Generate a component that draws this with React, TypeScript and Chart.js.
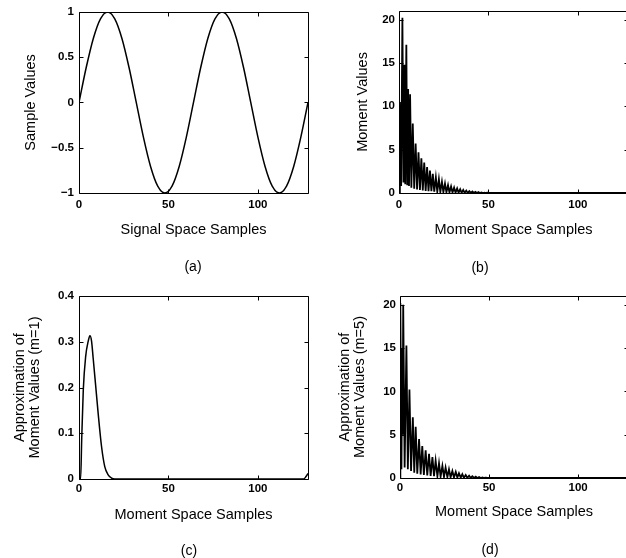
import React, { useEffect, useRef } from 'react';
import { Chart, registerables } from 'chart.js';

Chart.register(...registerables);

const FONT = "'Liberation Sans', Arial, Helvetica, sans-serif";

// ---------- data ----------
const xTicks = [0, 50, 100];

// (a) signal space samples
const aX = [0, 4, 8, 12, 16, 20, 24, 28, 32, 36, 40, 44, 48, 52, 56, 60, 64, 68, 72, 76, 80, 84, 88, 92, 96, 100, 104, 108, 112, 116, 120, 124, 128];
const aY = [0, 0.383, 0.707, 0.924, 1, 0.924, 0.707, 0.383, 0, -0.383, -0.707, -0.924, -1, -0.924, -0.707, -0.383, 0, 0.383, 0.707, 0.924, 1, 0.924, 0.707, 0.383, 0, -0.383, -0.707, -0.924, -1, -0.924, -0.707, -0.383, 0];
const aYTicks = [-1, -0.5, 0, 0.5, 1];

// (b) moment values
const bX = [0, 0.5, 1.2, 1.9, 2.5, 3.0, 3.5, 4.1, 4.6, 5.1, 5.6, 6.2, 6.9, 7.7, 8.5, 9.3, 10.1, 10.9, 11.7, 12.5, 13.3, 14.1, 14.9, 15.7, 16.5, 17.3, 18.1, 18.9, 19.7, 20.6, 21.4, 22.3, 23.1, 24.0, 24.8, 25.7, 26.5, 27.4, 28.2, 29.1, 29.9, 30.8, 31.6, 32.5, 33.3, 34.2, 35.0, 35.9, 36.7, 37.6, 38.4, 39.3, 40.1, 41.0, 41.8, 42.7, 43.5, 44.4, 45.2, 46.1, 46.9, 47.8, 48.6, 49.5, 50.3, 128];
const bY = [0, 10.5, 0.8, 20.2, 1.2, 14.8, 1.0, 17.1, 0.9, 12.0, 0.8, 11.4, 0.6, 8.0, 0.5, 5.7, 0.4, 4.7, 0.35, 4.0, 0.3, 3.5, 0.25, 3.0, 0.2, 2.6, 0.2, 2.2, 0.15, 1.8, 0.15, 1.6, 0.1, 1.3, 0.1, 1.1, 0.08, 0.9, 0.06, 0.75, 0.05, 0.62, 0.04, 0.52, 0.03, 0.43, 0.02, 0.35, 0.02, 0.28, 0.01, 0.22, 0.01, 0.17, 0, 0.13, 0, 0.1, 0, 0.07, 0, 0.05, 0, 0.03, 0, 0];
const bdYTicks = [0, 5, 10, 15, 20];

// (c) approximation m=1
const cX = [0, 0.9, 1.5, 2.4, 3.7, 5.2, 6.1, 7.0, 7.9, 9.2, 10.7, 12.6, 14.4, 16.3, 18.2, 20, 125.5, 127, 128];
const cY = [0, 0, 0.085, 0.195, 0.267, 0.302, 0.313, 0.302, 0.265, 0.209, 0.144, 0.071, 0.027, 0.009, 0.002, 0, 0, 0.006, 0.012];
const cYTicks = [0, 0.1, 0.2, 0.3, 0.4];

// (d) approximation m=5
const dX = [0, 0.2, 0.8, 1.3, 1.5, 1.8, 2.6, 3.6, 4.4, 5.3, 6.2, 7.2, 8.0, 8.8, 9.7, 10.7, 11.6, 12.5, 13.4, 14.4, 15.3, 16.3, 17.2, 18.2, 19.1, 20.0, 21.0, 21.9, 22.8, 23.8, 24.7, 25.6, 26.6, 27.5, 28.4, 29.4, 30.3, 31.3, 32.2, 33.1, 34.1, 35.0, 35.9, 36.9, 37.8, 38.8, 39.7, 40.6, 41.6, 42.5, 43.4, 44.4, 45.3, 46.3, 47.2, 48.1, 49.0, 128];
const dY = [0, 20.2, 1.0, 15.0, 5.0, 20.0, 1.2, 15.3, 1.0, 10.2, 0.8, 7.0, 0.6, 5.9, 0.5, 4.5, 0.4, 3.7, 0.35, 3.2, 0.3, 2.8, 0.25, 2.4, 0.2, 2.0, 0.2, 1.7, 0.15, 1.4, 0.12, 1.2, 0.1, 1.0, 0.08, 0.8, 0.06, 0.7, 0.05, 0.55, 0.04, 0.45, 0.03, 0.35, 0.02, 0.27, 0.01, 0.2, 0.01, 0.15, 0, 0.1, 0, 0.07, 0, 0.04, 0, 0];

// ---------- plugin: MATLAB-style box with inward ticks ----------
const boxPlugin = {
  id: 'matlabBox',
  afterDraw(chart: any) {
    const { ctx, chartArea: ca, scales } = chart;
    const xs = scales.x;
    const ys = scales.y;
    const l = Math.round(ca.left) + 0.5;
    const r = Math.round(ca.right) + 0.5;
    const t = Math.round(ca.top) + 0.5;
    const b = Math.round(ca.bottom) + 0.5;
    ctx.save();
    ctx.strokeStyle = '#000';
    ctx.lineWidth = 1;
    ctx.beginPath();
    ctx.rect(l, t, r - l, b - t);
    const L = 4;
    xs.ticks.forEach((tk: any) => {
      const px = Math.round(xs.getPixelForValue(tk.value)) + 0.5;
      ctx.moveTo(px, b);
      ctx.lineTo(px, b - L);
      ctx.moveTo(px, t);
      ctx.lineTo(px, t + L);
    });
    ys.ticks.forEach((tk: any) => {
      const py = Math.round(ys.getPixelForValue(tk.value)) + 0.5;
      ctx.moveTo(l, py);
      ctx.lineTo(l + L, py);
      ctx.moveTo(r, py);
      ctx.lineTo(r - L, py);
    });
    ctx.stroke();
    ctx.restore();
  },
};

const fmt = (v: number) => (v < 0 ? '\u2212' + String(Math.abs(v)) : String(v));

type PanelProps = {
  left: number;
  top: number;
  width: number;
  height: number;
  chartTop: number;
  chartLeft: number;
  chartRight: number;
  chartBottom: number;
  xs: number[];
  ys: number[];
  yMin: number;
  yMax: number;
  yTicks: number[];
  yTitle: string | string[];
  yTitlePad: number;
  yTickPad: number;
  xTitle: string;
  xTitlePadBottom: number;
  xTickPad: number;
  smooth: boolean;
  lineWidth: number;
};

function Panel(p: PanelProps) {
  const ref = useRef<HTMLCanvasElement | null>(null);
  useEffect(() => {
    if (!ref.current) return;
    const pts = p.xs.map((x, i) => ({ x, y: p.ys[i] }));
    const chart = new Chart(ref.current, {
      type: 'line',
      data: {
        datasets: [
          {
            data: pts,
            borderColor: '#000',
            borderWidth: p.lineWidth,
            pointRadius: 0,
            fill: false,
            tension: 0,
            cubicInterpolationMode: p.smooth ? 'monotone' : 'default',
          } as any,
        ],
      },
      options: {
        responsive: false,
        animation: false,
        events: [],
        layout: {
          padding: { top: p.chartTop, left: 0, right: p.width - p.chartRight, bottom: 0 },
        },
        plugins: { legend: { display: false }, tooltip: { enabled: false } },
        scales: {
          x: {
            type: 'linear',
            min: 0,
            max: 128,
            afterBuildTicks: (s: any) => {
              s.ticks = xTicks.map((v) => ({ value: v }));
            },
            afterFit: (s: any) => {
              s.height = p.height - p.chartBottom;
            },
            grid: { display: true, drawOnChartArea: false, drawTicks: false },
            border: { display: false },
            ticks: {
              padding: p.xTickPad,
              color: '#000',
              maxRotation: 0,
              autoSkip: false,
              font: { family: FONT, size: 11.5, weight: 'bold' },
              callback: (v: any) => fmt(Number(v)),
            },
            title: {
              display: true,
              text: p.xTitle,
              color: '#000',
              font: { family: FONT, size: 14.5, lineHeight: 1.04 },
              padding: { top: 0, bottom: p.xTitlePadBottom },
            },
          },
          y: {
            type: 'linear',
            min: p.yMin,
            max: p.yMax,
            afterBuildTicks: (s: any) => {
              s.ticks = p.yTicks.map((v) => ({ value: v }));
            },
            afterFit: (s: any) => {
              s.width = p.chartLeft;
            },
            grid: { display: true, drawOnChartArea: false, drawTicks: false },
            border: { display: false },
            ticks: {
              padding: p.yTickPad,
              color: '#000',
              autoSkip: false,
              font: { family: FONT, size: 11.5, weight: 'bold' },
              callback: (v: any) => fmt(Number(v)),
            },
            title: {
              display: true,
              text: p.yTitle,
              color: '#000',
              font: { family: FONT, size: 14.5, lineHeight: 1.04 },
              padding: { top: p.yTitlePad, bottom: 0 },
            },
          },
        },
      },
      plugins: [boxPlugin],
    });
    return () => chart.destroy();
  }, []);
  return (
    <canvas
      ref={ref}
      width={p.width}
      height={p.height}
      style={{ position: 'absolute', left: p.left, top: p.top, width: p.width, height: p.height }}
    />
  );
}

const captionStyle = (cx: number, cy: number): React.CSSProperties => ({
  position: 'absolute',
  left: cx,
  top: cy - 8,
  transform: 'translateX(-50%)',
  fontFamily: FONT,
  fontSize: 14,
  lineHeight: '16px',
  color: '#000',
  whiteSpace: 'nowrap',
});

export default function App() {
  return (
    <div
      style={{
        position: 'absolute',
        left: 0,
        top: 0,
        width: 626,
        height: 558,
        overflow: 'hidden',
        background: '#fff',
      }}
    >
      <Panel
        left={0}
        top={0}
        width={313}
        height={279}
        chartTop={11}
        chartLeft={79}
        chartRight={308}
        chartBottom={193}
        xs={aX}
        ys={aY}
        yMin={-1}
        yMax={1}
        yTicks={aYTicks}
        yTitle="Sample Values"
        yTitlePad={23}
        yTickPad={5}
        xTitle="Signal Space Samples"
        xTitlePadBottom={41}
        xTickPad={5}
        smooth={true}
        lineWidth={1.5}
      />
      <Panel
        left={313}
        top={0}
        width={320}
        height={279}
        chartTop={10}
        chartLeft={86}
        chartRight={315}
        chartBottom={193}
        xs={bX}
        ys={bY}
        yMin={0}
        yMax={21}
        yTicks={bdYTicks}
        yTitle="Moment Values"
        yTitlePad={42}
        yTickPad={4}
        xTitle="Moment Space Samples"
        xTitlePadBottom={41}
        xTickPad={5}
        smooth={false}
        lineWidth={1.8}
      />
      <Panel
        left={0}
        top={279}
        width={313}
        height={279}
        chartTop={17}
        chartLeft={79}
        chartRight={308}
        chartBottom={200}
        xs={cX}
        ys={cY}
        yMin={0}
        yMax={0.4}
        yTicks={cYTicks}
        yTitle={['Approximation of', 'Moment Values (m=1)']}
        yTitlePad={12}
        yTickPad={5}
        xTitle="Moment Space Samples"
        xTitlePadBottom={35}
        xTickPad={3}
        smooth={true}
        lineWidth={1.5}
      />
      <Panel
        left={313}
        top={279}
        width={320}
        height={279}
        chartTop={17}
        chartLeft={87}
        chartRight={315}
        chartBottom={199}
        xs={dX}
        ys={dY}
        yMin={0}
        yMax={21}
        yTicks={bdYTicks}
        yTitle={['Approximation of', 'Moment Values (m=5)']}
        yTitlePad={24}
        yTickPad={4}
        xTitle="Moment Space Samples"
        xTitlePadBottom={38}
        xTickPad={3}
        smooth={false}
        lineWidth={1.8}
      />
      <div style={captionStyle(193, 266)}>(a)</div>
      <div style={captionStyle(480, 267)}>(b)</div>
      <div style={captionStyle(189, 550)}>(c)</div>
      <div style={captionStyle(490, 549)}>(d)</div>
    </div>
  );
}
